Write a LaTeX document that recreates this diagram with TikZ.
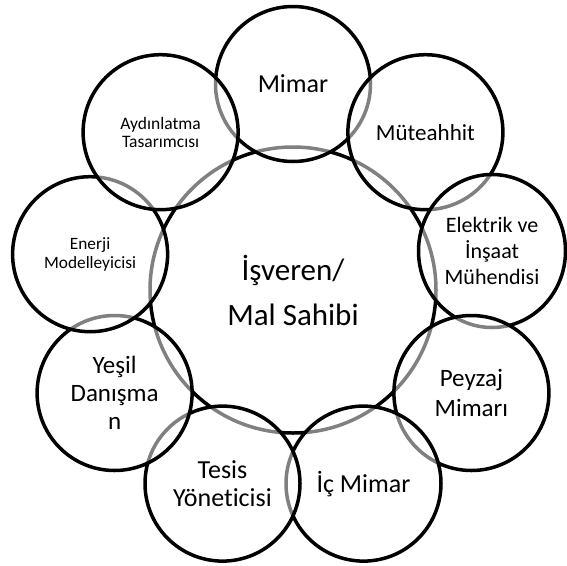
\documentclass[tikz,border=0pt]{standalone}
\usepackage{fontspec}
\setmainfont{Carlito}[Ligatures=NoCommon]
\usetikzlibrary{shapes.geometric}
\begin{document}
\begin{tikzpicture}[x=1pt,y=-1pt,
  ring/.style={circle, draw=black, line width=3.5pt, fill=white, fill opacity=0.5,
    text opacity=1, minimum size=155pt, inner sep=0pt, align=center},
  hub/.style={circle, draw=black, line width=3.5pt, minimum size=286pt, inner sep=0pt, align=center}]
\useasboundingbox (0,0) rectangle (567,565);
\node[hub, font={\fontsize{31}{45}\selectfont}] (hub) at (293,290) {İşveren/\\Mal Sahibi};
\node[ring, font={\fontsize{26}{30}\selectfont}] (mimar) at (293,84) {Mimar};
\node[ring, font={\fontsize{23}{27}\selectfont}] (muteahhit) at (425.4,132.2) {Müteahhit};
\node[ring, ellipse, minimum width=147pt, minimum height=153pt, font={\fontsize{22}{26}\selectfont}] (elektrik) at (492,251) {Elektrik ve\\İnşaat\\Mühendisi};
\node[ring, font={\fontsize{25}{30}\selectfont}] (peyzaj) at (471.4,393) {Peyzaj\\Mimarı};
\node[ring, font={\fontsize{26}{30}\selectfont}] (icmimar) at (363.5,483.6) {İç Mimar};
\node[ring, font={\fontsize{26}{28.3}\selectfont}] (tesis) at (222.5,483.6) {Tesis\\Yöneticisi};
\node[ring, font={\fontsize{25}{28.3}\selectfont}] (yesil) at (114.6,393) {Yeşil\\Danışma\\n};
\node[ring, font={\fontsize{17.3}{19}\selectfont}] (enerji) at (90.1,254.2) {Enerji\\Modelleyicisi};
\node[ring, font={\fontsize{17.5}{18.3}\selectfont}] (aydinlatma) at (160.6,132.2) {Aydınlatma\\Tasarımcısı};
\end{tikzpicture}
\end{document}
